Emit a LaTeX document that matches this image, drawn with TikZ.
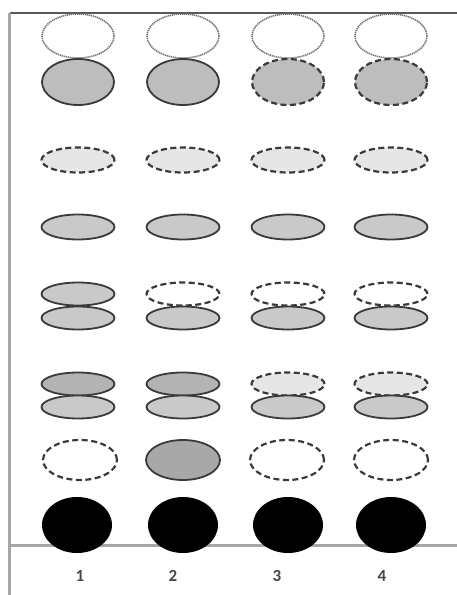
\documentclass[tikz,border=0pt]{standalone}
\usepackage{fontspec}
\setmainfont{Carlito}
\usetikzlibrary{shapes.geometric}
\definecolor{edge}{HTML}{3A3A3A}
\definecolor{gA}{HTML}{BDBDBD}
\definecolor{gB}{HTML}{C9C9C9}
\definecolor{gC}{HTML}{E6E6E6}
\definecolor{gD}{HTML}{B3B3B3}
\definecolor{gE}{HTML}{A8A8A8}
\tikzset{
  ell/.style={ellipse, inner sep=0pt, line width=1.8pt, draw=edge},
  solidline/.style={ell},
  dashline/.style={ell, dash pattern=on 6pt off 3.5pt, line width=2.2pt},
  dotline/.style={ell, draw=gray!85!black, dash pattern=on 1.2pt off 0.8pt, line width=1.6pt},
  big/.style={minimum width=72pt, minimum height=44pt},
  mid/.style={minimum width=74pt, minimum height=40pt},
  flat/.style={minimum width=73pt, minimum height=25pt},
  thin/.style={minimum width=73pt, minimum height=23pt},
  blk/.style={ellipse, inner sep=0pt, fill=black, minimum width=70pt, minimum height=56pt},
  frameline/.style={line width=2.4pt, draw=gray!70},
  lab/.style={font=\bfseries\fontsize{17}{19}\selectfont, text=black!72}
}
\begin{document}
\begin{tikzpicture}[x=1pt,y=-1pt]
\useasboundingbox (0,0) rectangle (457,595);
% frame
\coordinate (tl) at (9.5,13);
\coordinate (tr) at (457,13);
\coordinate (bl) at (9.5,595);
\coordinate (ml) at (9.5,545.5);
\coordinate (mr) at (457,545.5);
\draw[frameline, draw=black!65] (tl) -- (tr);
\draw[frameline] (tl) -- (bl);
\draw[frameline] (ml) -- (mr);
% row 1
\foreach \i/\x in {1/78,2/183,3/288,4/391}{
  \node[dotline, big, fill=white] (a\i) at (\x,36) {};
}
% row 2
\node[solidline, big, minimum height=46pt, fill=gA] (b1) at (78,82) {};
\node[solidline, big, minimum height=46pt, fill=gA] (b2) at (183,82) {};
\node[dashline, big, minimum height=46pt, fill=gA] (b3) at (288,82) {};
\node[dashline, big, minimum height=46pt, fill=gA] (b4) at (391,82) {};
% row 3
\foreach \i/\x in {1/78,2/183,3/288,4/391}{
  \node[dashline, flat, fill=gC] (c\i) at (\x,160) {};
}
% row 4
\foreach \i/\x in {1/78,2/183,3/288,4/391}{
  \node[solidline, flat, fill=gB] (d\i) at (\x,227) {};
}
% row 5
\node[solidline, thin, fill=gB] (e1) at (78,294) {};
\node[dashline, thin, fill=white] (e2) at (183,294) {};
\node[dashline, thin, fill=white] (e3) at (288,294) {};
\node[dashline, thin, fill=white] (e4) at (391,294) {};
\foreach \i/\x in {1/78,2/183,3/288,4/391}{
  \node[solidline, thin, fill=gB] (f\i) at (\x,318) {};
}
% row 6
\node[solidline, thin, fill=gD] (g1) at (78,384) {};
\node[solidline, thin, fill=gD] (g2) at (183,384) {};
\node[dashline, thin, fill=gC] (g3) at (288,384) {};
\node[dashline, thin, fill=gC] (g4) at (391,384) {};
\foreach \i/\x in {1/78,2/183,3/288,4/391}{
  \node[solidline, thin, fill=gB] (h\i) at (\x,407) {};
}
% row 7
\node[dashline, mid, fill=white] (k1) at (80,460) {};
\node[solidline, mid, fill=gE] (k2) at (183,460) {};
\node[dashline, mid, fill=white] (k3) at (287,460) {};
\node[dashline, mid, fill=white] (k4) at (391,460) {};
% row 8
\foreach \i/\x in {1/77,2/183,3/288,4/391}{
  \node[blk] (m\i) at (\x,525) {};
}
% labels
\node[lab] (n1) at (80,576) {1};
\node[lab] (n2) at (173,576) {2};
\node[lab] (n3) at (277,576) {3};
\node[lab] (n4) at (382,576) {4};
\end{tikzpicture}
\end{document}
